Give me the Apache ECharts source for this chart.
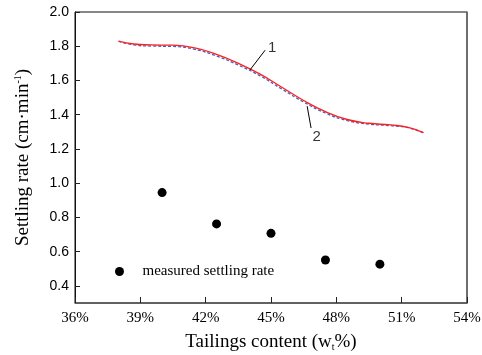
<!DOCTYPE html>
<html>
<head>
<meta charset="utf-8">
<style>
  html, body { margin: 0; padding: 0; background: #fff; }
  #chart { width: 482px; height: 355px; }
</style>
<script src="https://cdn.jsdelivr.net/npm/echarts@6/dist/echarts.min.js"></script>
</head>
<body>
<div id="chart"></div>
<script>
// curve 1 (red, solid) and curve 2 (blue, dashed): [tailings %, settling rate]
const curve1 = [
  [38.0, 1.830], [38.7, 1.813], [39.5, 1.808], [40.5, 1.806], [41.5, 1.790],
  [42.5, 1.752], [43.5, 1.700], [44.5, 1.637], [45.5, 1.560], [46.5, 1.483],
  [47.5, 1.418], [48.5, 1.372], [49.5, 1.350], [50.5, 1.340], [51.3, 1.326],
  [52.0, 1.295]
];
const curve2 = [
  [38.0, 1.828], [38.7, 1.808], [39.5, 1.801], [40.5, 1.799], [41.5, 1.782],
  [42.5, 1.743], [43.5, 1.690], [44.5, 1.627], [45.5, 1.550], [46.5, 1.474],
  [47.5, 1.410], [48.5, 1.366], [49.5, 1.345], [50.5, 1.336], [51.3, 1.324],
  [52.0, 1.294]
];
const measured = [
  [40.0, 0.945], [42.5, 0.762], [45.0, 0.707], [47.5, 0.551], [50.0, 0.527]
];
const yTicks = [0.4, 0.6, 0.8, 1.0, 1.2, 1.4, 1.6, 1.8, 2.0];
// leader lines for the curve numbers
const leader1 = [[44.04, 1.662], [44.73, 1.777]];
const leader2 = [[46.66, 1.450], [46.84, 1.322]];
const curveTags = [[45.05, 1.79, '1'], [47.1, 1.27, '2']];

const serif = "'Liberation Serif', 'DejaVu Serif', serif";
const sans = "'Liberation Sans', Arial, sans-serif";

const chart = echarts.init(document.getElementById('chart'));
chart.setOption({
  animation: false,
  grid: {
    left: 75, right: 15, top: 12, bottom: 52,
    outerBoundsMode: 'none',
    show: true, borderColor: '#111', borderWidth: 1
  },
  legend: {
    left: 110, top: 259,
    icon: 'circle',
    itemWidth: 36, itemHeight: 9,
    data: ['measured settling rate'],
    textStyle: { fontFamily: serif, fontSize: 15, color: '#000' }
  },
  xAxis: {
    type: 'value',
    min: 36, max: 54, interval: 3,
    name: 'Tailings content (w{sub|t}%)',
    nameLocation: 'middle',
    nameGap: 30,
    nameTextStyle: {
      fontFamily: serif, fontSize: 19, color: '#000',
      rich: { sub: { fontFamily: serif, fontSize: 10, color: '#000', padding: [9, 0, 0, 0] } }
    },
    axisLine: { lineStyle: { color: '#555', width: 1.5 } },
    axisTick: { inside: true, length: 6, lineStyle: { color: '#222' } },
    axisLabel: {
      formatter: '{value}%', fontFamily: serif, fontSize: 15, color: '#000', margin: 8
    },
    splitLine: { show: false }
  },
  yAxis: [{
    type: 'value',
    min: 0.3, max: 2.0,
    name: 'Settling rate (cm·min{sup|-1})',
    nameLocation: 'middle',
    nameGap: 42,
    nameTextStyle: {
      fontFamily: serif, fontSize: 19, color: '#000',
      rich: { sup: { fontFamily: serif, fontSize: 10, color: '#000', padding: [0, 0, 10, 0] } }
    },
    axisLine: { show: true, lineStyle: { color: '#111', width: 1 } },
    axisTick: { inside: true, length: 5, customValues: yTicks, lineStyle: { color: '#222' } },
    axisLabel: {
      customValues: yTicks,
      formatter: v => v.toFixed(1),
      fontFamily: sans, fontSize: 14, color: '#000', margin: 6
    },
    splitLine: { show: false }
  }, {
    type: 'value', position: 'right',
    min: 0.3, max: 2.0,
    axisLine: { show: true, lineStyle: { color: '#666', width: 1.5 } },
    axisTick: { show: false }, axisLabel: { show: false }, splitLine: { show: false }
  }],
  series: [
    {
      name: 'curve 1', type: 'line', data: curve1, smooth: 0.5,
      showSymbol: false, lineStyle: { color: '#ff2020', width: 1.3 }, z: 3
    },
    {
      name: 'curve 2', type: 'line', data: curve2, smooth: 0.5,
      showSymbol: false, lineStyle: { color: '#4060c0', width: 1.3, type: [3, 2] }, z: 2
    },
    {
      name: 'measured settling rate', type: 'scatter', data: measured,
      symbol: 'circle', symbolSize: 9, itemStyle: { color: '#000', opacity: 1 }
    },
    {
      type: 'line', data: leader1, showSymbol: false, silent: true,
      lineStyle: { color: '#000', width: 1 }
    },
    {
      type: 'line', data: leader2, showSymbol: false, silent: true,
      lineStyle: { color: '#000', width: 1 }
    },
    {
      type: 'scatter', data: curveTags, symbolSize: 0, silent: true,
      label: {
        show: true, position: 'inside', formatter: p => p.value[2],
        fontFamily: sans, fontSize: 15, color: '#000'
      }
    }
  ]
});
</script>
</body>
</html>
